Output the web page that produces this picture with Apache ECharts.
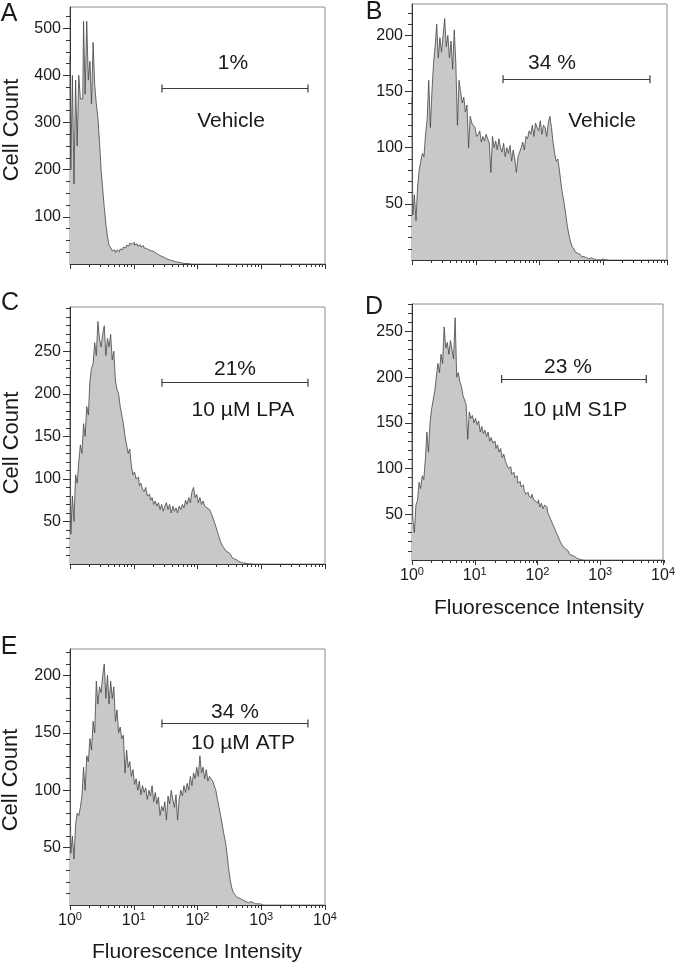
<!DOCTYPE html>
<html><head><meta charset="utf-8">
<script src="https://cdn.jsdelivr.net/npm/echarts@6/dist/echarts.min.js"></script>
<style>html,body{margin:0;padding:0;background:#fff}#c{width:678px;height:965px}</style>
</head><body><div id="c"></div>
<script>
// ---------- data ----------
const panelLetters = ['A', 'B', 'C', 'D', 'E'];
const binsPerDecade = 40;           // histogram channels per decade (log10 scale)
const decades = [0, 1, 2, 3, 4];    // 10^0 ... 10^4
const xAxisTitle = 'Fluorescence Intensity';
const yAxisTitle = 'Cell Count';

const countsA = [440,200,400,170,390,250,400,350,350,515,
  360,515,390,430,340,470,380,340,310,260,
  200,160,120,85,58,40,35,28,30,24,
  30,26,32,30,36,34,40,38,44,42,
  46,40,43,38,41,36,39,34,33,30,
  31,28,27,24,23,20,19,17,15,13,
  12,10,9,8,7,6,5,4,4,3,
  2,2,1,1,1,0,0];
const countsB = [145,40,58,35,65,80,88,95,92,112,
  125,160,118,150,175,190,210,180,198,185,
  200,215,190,200,180,195,170,205,175,120,
  160,150,140,145,132,138,100,128,122,120,
  118,110,112,115,105,110,106,112,108,104,
  78,110,100,106,98,108,100,96,104,92,
  100,95,102,88,98,90,78,92,96,100,
  105,98,110,108,115,112,120,110,122,118,
  115,124,112,120,118,110,122,128,118,105,
  95,88,90,80,68,58,50,40,30,22,
  16,12,10,7,6,5,4,3,3,2,
  2,1,2,1,1,0,1,0,0,0,
  1,0,0,0];
const countsC = [200,35,80,50,105,95,120,140,130,165,
  150,185,175,215,230,235,260,245,285,265,
  255,270,280,245,265,255,270,240,250,215,
  205,200,185,175,165,150,140,130,135,115,
  105,108,100,102,92,95,88,85,90,80,
  82,75,78,70,74,68,72,64,70,62,
  68,72,64,70,60,68,62,66,60,68,
  64,70,66,75,70,78,72,85,90,78,
  82,72,78,70,74,68,66,64,64,60,
  55,50,44,38,32,26,22,19,16,14,
  12,10,8,6,5,4,3,2,2,1,
  1,1,0,0,0];
const countsD = [165,45,30,60,65,85,78,92,88,110,
  140,118,150,165,175,185,200,215,205,225,
  215,255,232,238,225,240,230,220,265,200,
  205,195,190,180,175,170,132,162,155,158,
  150,155,148,152,140,146,138,142,135,140,
  130,134,128,130,122,126,118,122,112,116,
  108,104,100,102,94,96,90,92,84,86,
  80,82,76,72,74,70,68,72,66,64,
  62,66,58,62,56,60,58,52,48,44,
  40,36,32,28,24,20,17,14,12,10,
  8,6,5,4,3,2,1,1,0,0];
const countsE = [140,45,60,40,70,80,78,85,95,120,
  100,130,125,145,135,160,150,195,175,190,
  185,200,210,180,200,175,195,180,190,160,
  170,150,155,145,148,115,135,120,125,112,
  118,105,110,100,108,96,104,98,102,92,
  100,95,104,90,98,88,94,78,86,82,
  90,74,95,88,100,92,85,96,74,92,
  100,95,104,98,106,100,112,104,115,110,
  120,112,130,115,120,110,118,108,112,110,
  108,104,100,92,85,78,70,62,55,45,
  32,22,15,11,9,7,6,5,4,4,
  3,3,2,3,2,2,1,2,1,1,
  1,0];
const allCounts = [countsA, countsB, countsC, countsD, countsE];

const yMax = [545, 228, 302, 280, 223];
const yLabelValues = [[100,200,300,400,500],[50,100,150,200],[50,100,150,200,250],[50,100,150,200,250],[50,100,150,200]];
const yMinorStep = [25, 10, 10, 10, 10];
const gatePercent = ['1%', '34 %', '21%', '23 %', '34 %'];
const treatment = ['Vehicle', 'Vehicle', '10 µM LPA', '10 µM S1P', '10 µM ATP'];
const gateFrom = [27.7, 26.8, 27.7, 26.8, 27.7];   // fluorescence units
const gateTo = [5400, 5400, 5400, 5400, 5400];
const gateLevel = [372, 161, 213, 198, 158];        // cell-count level of gate bar
const showXLabels = [false, false, false, true, true];
const showYName = [true, false, true, false, true];

// ---------- layout / style ----------
const FONT = '"Liberation Sans", Arial, Helvetica, sans-serif';
const INK = '#1a1a1a';
const layout = {
  rects: [
    {left: 70, top: 7, width: 255, height: 257},
    {left: 412, top: 4, width: 255, height: 256},
    {left: 70, top: 307, width: 255, height: 257},
    {left: 412, top: 304, width: 255, height: 256},
    {left: 70, top: 649, width: 255, height: 256}
  ],
  letterPos: [[9, 14], [374, 12], [10, 303], [374, 307], [9, 647]],
  pctPos: [[233, 63], [552, 63], [235, 369], [568, 367], [235, 712]],
  treatPos: [[231, 121], [602, 121], [243, 410], [575, 410], [243, 743]],
  yNamePos: [[12, 130], null, [12, 443], null, [11, 780]],
  xNamePos: [null, null, null, [539, 608], [197, 952]]
};

const minorLogTicks = [];
for (const d of [0, 1, 2, 3]) for (let k = 2; k <= 9; k++) minorLogTicks.push(d + Math.log10(k));

const grid = [], xAxis = [], yAxis = [], series = [], graphic = [];

for (let i = 0; i < 5; i++) {
  const r = layout.rects[i];
  grid.push(Object.assign({show: true, borderColor: '#8c8c8c', borderWidth: 1, backgroundColor: 'transparent'}, r));
}
for (let i = 0; i < 5; i++) {
  grid.push(Object.assign({show: false}, layout.rects[i]));
}

for (let i = 0; i < 5; i++) {
  xAxis.push({
    type: 'value', gridIndex: i, min: 0, max: 4, interval: 1,
    axisLine: {show: true, onZero: false, lineStyle: {color: '#333', width: 1}},
    axisTick: {show: true, customValues: decades, length: 5, lineStyle: {color: '#333', width: 1}},
    axisLabel: {
      show: showXLabels[i], customValues: decades, margin: 6,
      formatter: v => '{b|10}{s|' + v + '}',
      rich: {
        b: {fontSize: 16, fontFamily: FONT, color: INK, verticalAlign: 'bottom'},
        s: {fontSize: 11, fontFamily: FONT, color: INK, verticalAlign: 'bottom', padding: [0, 0, 7, 0]}
      }
    },
    splitLine: {show: false}
  });
  const yMinors = [];
  for (let v = yMinorStep[i]; v <= yMax[i]; v += yMinorStep[i]) yMinors.push(v);
  yAxis.push({
    type: 'value', gridIndex: i, min: 0, max: yMax[i],
    axisLine: {show: true, onZero: false, lineStyle: {color: '#333', width: 1}},
    axisTick: {show: true, customValues: yLabelValues[i], length: 7, lineStyle: {color: '#333', width: 1}},
    axisLabel: {show: true, customValues: yLabelValues[i], fontSize: 16, fontFamily: FONT, color: INK, margin: 9},
    splitLine: {show: false}
  });
  xAxis.push({
    type: 'value', gridIndex: i + 5, min: 0, max: 4, interval: 1,
    axisLine: {show: false},
    axisTick: {show: true, customValues: minorLogTicks, length: 3, lineStyle: {color: '#333', width: 1}},
    axisLabel: {show: false}, splitLine: {show: false}
  });
  yAxis.push({
    type: 'value', gridIndex: i + 5, min: 0, max: yMax[i],
    axisLine: {show: false},
    axisTick: {show: true, customValues: yMinors, length: 4, lineStyle: {color: '#333', width: 1}},
    axisLabel: {show: false}, splitLine: {show: false}
  });
}

for (let i = 0; i < 5; i++) {
  const data = allCounts[i].map((v, k) => [k / binsPerDecade, v]);
  series.push({
    type: 'line', xAxisIndex: 2 * i, yAxisIndex: 2 * i, data,
    showSymbol: false, symbol: 'none', smooth: false, step: 'middle',
    lineStyle: {color: '#444', width: 0.8},
    areaStyle: {color: '#c8c8c8', opacity: 1},
    markLine: {
      silent: true, animation: false,
      symbol: ['rect', 'rect'], symbolSize: [8, 1.2],
      lineStyle: {color: '#3a3a3a', width: 1, type: 'solid'},
      label: {show: false},
      data: [[{coord: [Math.log10(gateFrom[i]), gateLevel[i]]}, {coord: [Math.log10(gateTo[i]), gateLevel[i]]}]]
    }
  });
}

function txt(text, pos, size, rot) {
  return {
    type: 'text', x: pos[0], y: pos[1], rotation: rot || 0,
    style: {text, fontSize: size, fontFamily: FONT, fill: INK, align: 'center', verticalAlign: 'middle'}
  };
}
for (let i = 0; i < 5; i++) {
  graphic.push(txt(panelLetters[i], layout.letterPos[i], 25));
  graphic.push(txt(gatePercent[i], layout.pctPos[i], 21));
  graphic.push(txt(treatment[i], layout.treatPos[i], 21));
  if (showYName[i]) graphic.push(txt(yAxisTitle, layout.yNamePos[i], 22, Math.PI / 2));
  if (layout.xNamePos[i]) graphic.push(txt(xAxisTitle, layout.xNamePos[i], 21));
}

const chart = echarts.init(document.getElementById('c'), null, {renderer: 'canvas'});
chart.setOption({animation: false, backgroundColor: '#fff', grid, xAxis, yAxis, series, graphic});
</script></body></html>
